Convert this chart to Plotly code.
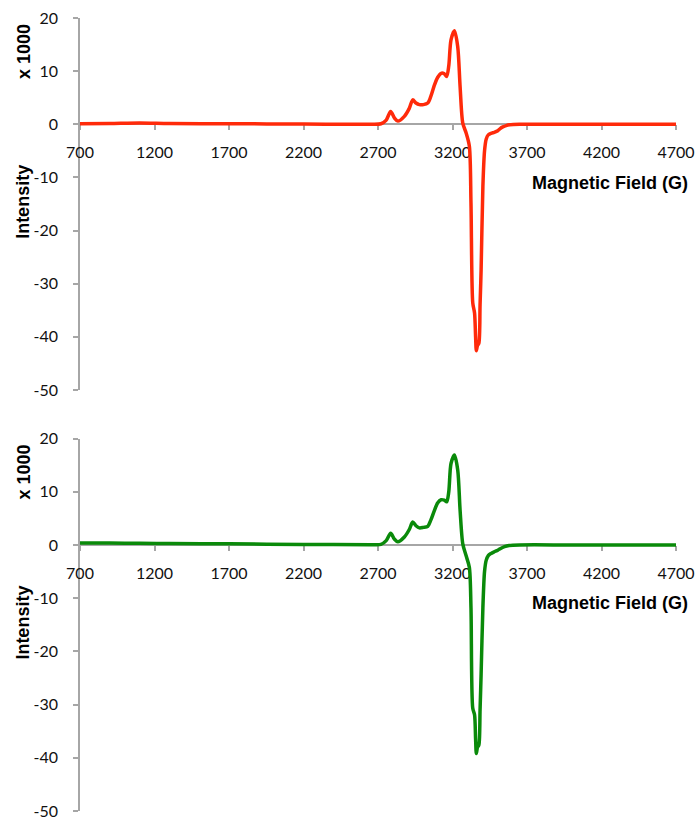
import plotly.graph_objects as go

# EPR derivative spectra (intensity in units of 1000)
field_red = [700, 900, 1100, 1300, 1700, 2200, 2650, 2720, 2755, 2785, 2810, 2833,
             2877, 2910, 2933, 2955, 2978, 3005, 3034, 3055, 3079, 3100, 3124, 3145,
             3161, 3175, 3190, 3213, 3235, 3251, 3269, 3291, 3313, 3324, 3336, 3348,
             3355, 3360, 3368, 3377, 3385, 3392, 3404, 3415, 3426, 3440, 3459, 3480,
             3504, 3520, 3538, 3560, 3583, 3650, 4000, 4700]
intensity_red = [0.1, 0.15, 0.25, 0.15, 0.1, 0.05, 0.0, 0.1, 0.8, 2.4, 1.2, 0.6,
                 1.5, 3.0, 4.6, 4.0, 3.7, 3.7, 4.0, 5.3, 7.4, 8.8, 9.6, 9.5,
                 9.0, 11.0, 15.9, 17.6, 14.6, 7.1, 0.2, -1.6, -4.1, -14.8, -33.6, -35.5,
                 -40.0, -42.6, -41.6, -41.2, -34.0, -27.4, -11.6, -5.0, -2.8, -2.0, -1.7, -1.5,
                 -1.2, -0.8, -0.5, -0.25, -0.1, 0.0, 0.0, 0.0]

field_green = [700, 900, 1100, 1300, 1700, 2200, 2650, 2720, 2755, 2785, 2810, 2833,
               2877, 2910, 2933, 2955, 2978, 3005, 3034, 3055, 3079, 3100, 3124, 3145,
               3161, 3175, 3190, 3213, 3235, 3251, 3269, 3291, 3313, 3324, 3336, 3348,
               3355, 3360, 3368, 3377, 3385, 3392, 3404, 3415, 3426, 3440, 3459, 3480,
               3504, 3520, 3549, 3580, 3650, 4000, 4700]
intensity_green = [0.35, 0.35, 0.3, 0.25, 0.2, 0.1, 0.05, 0.1, 0.8, 2.2, 1.1, 0.6,
                   1.5, 2.9, 4.3, 3.6, 3.2, 3.3, 3.5, 4.7, 6.5, 7.9, 8.5, 8.4,
                   8.1, 10.0, 15.3, 16.9, 14.1, 6.5, 0.2, -2.0, -4.2, -11.8, -30.7, -31.9,
                   -36.5, -39.2, -38.0, -37.6, -31.0, -24.3, -11.7, -5.0, -2.9, -2.0, -1.6, -1.3,
                   -1.0, -0.7, -0.3, -0.1, 0.0, 0.0, 0.0]

x_ticks = [700, 1200, 1700, 2200, 2700, 3200, 3700, 4200, 4700]
x_tick_labels = [str(v) for v in x_ticks]
y_ticks = [20, 10, 0, -10, -20, -30, -40, -50]
y_tick_labels = ["20", "10", "0", "-10", "-20", "-30", "-40", "-50"]

X_RANGE = [700, 4700]
Y_RANGE = [-50, 20]
AXIS_GREY = "#a6a6a6"
TICK_FONT = dict(family="Lato, 'Open Sans', sans-serif", size=16, color="#111111")
TITLE_FONT = dict(family="'Liberation Sans', Arial, sans-serif", size=18, color="#000000")

W, H = 698, 820
M = dict(l=80, r=22, t=18, b=9)
plot_h = H - M["t"] - M["b"]
plot_w = W - M["l"] - M["r"]

# vertical extent (in pixels from top) of each panel's plotting area
panels = [
    dict(top=18, bottom=390, color="#ff2a0a", x=field_red, y=intensity_red),
    dict(top=438.5, bottom=811, color="#0a8a0a", x=field_green, y=intensity_green),
]

fig = go.Figure()
layout = dict(
    width=W, height=H, margin=M,
    paper_bgcolor="white", plot_bgcolor="white",
    showlegend=False,
)
annotations = []

for i, p in enumerate(panels, start=1):
    d0 = (H - M["b"] - p["bottom"]) / plot_h
    d1 = (H - M["b"] - p["top"]) / plot_h
    d0, d1 = max(0.0, d0), min(1.0, d1)
    zero_pos = d0 + (0 - Y_RANGE[0]) / (Y_RANGE[1] - Y_RANGE[0]) * (d1 - d0)
    xa = "xaxis" if i == 1 else f"xaxis{i}"
    ya = "yaxis" if i == 1 else f"yaxis{i}"
    xr = "x" if i == 1 else f"x{i}"
    yr = "y" if i == 1 else f"y{i}"

    fig.add_trace(go.Scatter(
        x=p["x"], y=p["y"], xaxis=xr, yaxis=yr, mode="lines",
        line=dict(color=p["color"], width=3.5, shape="spline", smoothing=0.8),
        hoverinfo="skip",
    ))

    layout[xa] = dict(
        range=X_RANGE, domain=[0, 1], anchor="free", position=zero_pos,
        showline=True, linecolor=AXIS_GREY, linewidth=1.5,
        ticks="outside", ticklen=5, tickcolor=AXIS_GREY, tickwidth=1.5,
        tickvals=x_ticks, ticktext=x_tick_labels, ticklabelstandoff=9,
        tickfont=TICK_FONT, showgrid=False, zeroline=False, automargin=False,
        layer="below traces", fixedrange=True,
    )
    layout[ya] = dict(
        range=Y_RANGE, domain=[d0, d1], anchor=xr,
        showline=True, linecolor=AXIS_GREY, linewidth=1.5,
        ticks="outside", ticklen=5, tickcolor=AXIS_GREY, tickwidth=1.5,
        tickvals=y_ticks, ticktext=y_tick_labels, ticklabelstandoff=12,
        tickfont=TICK_FONT, showgrid=False, zeroline=False, automargin=False,
        layer="below traces", fixedrange=True,
    )

    # axis titles
    annotations += [
        dict(text="<b>Magnetic Field (G)</b>", xref="paper", yref=yr,
             x=(690 - M["l"]) / plot_w, y=-11.0,
             xanchor="right", yanchor="middle", showarrow=False, font=TITLE_FONT),
        dict(text="<b>Intensity</b>", xref="paper", yref=yr,
             x=(23 - M["l"]) / plot_w, y=-14.6,
             xanchor="center", yanchor="middle", textangle=-90,
             showarrow=False, font=TITLE_FONT),
        dict(text="<b>x 1000</b>", xref="paper", yref=yr,
             x=(24 - M["l"]) / plot_w, y=13.6,
             xanchor="center", yanchor="middle", textangle=-90,
             showarrow=False, font=TITLE_FONT),
    ]

layout["annotations"] = annotations
fig.update_layout(**layout)
fig.write_html("out.html")
